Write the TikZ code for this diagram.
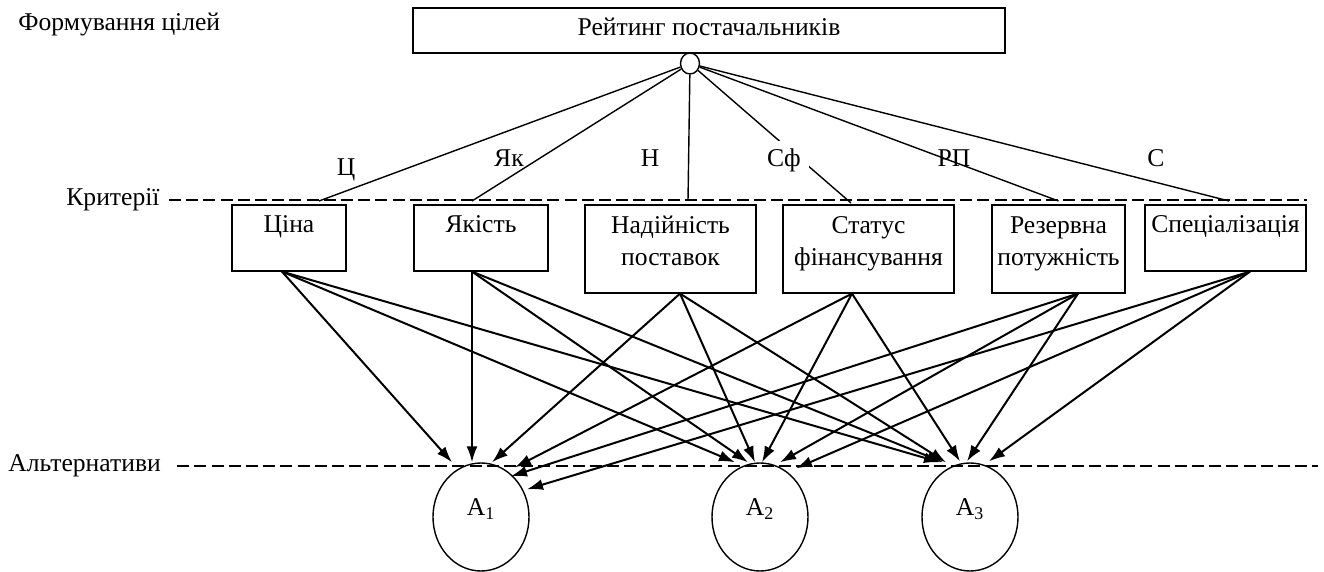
\documentclass[tikz,border=0pt]{standalone}
\usepackage{fontspec}
\setmainfont{Liberation Serif}
\usetikzlibrary{arrows.meta,shapes.geometric,calc}

\begin{document}
\begin{tikzpicture}[x=0.5pt, y=-0.5pt, >={Latex[length=8pt,width=5.5pt]},
    font=\fontsize{12.8}{16}\selectfont,
    goalbox/.style={rectangle, draw, line width=0.9pt, anchor=north, inner xsep=0pt, inner ysep=0pt, text height=14pt, text depth=8.5pt},
    crit/.style={rectangle, draw, line width=0.8pt, anchor=north, align=center, inner xsep=0pt, inner ysep=0pt, text height=14pt, text depth=19pt},
    crit2/.style={crit, text height=30.5pt, text depth=13.5pt},
    alt/.style={ellipse, draw, line width=0.7pt, inner sep=0pt, minimum width=48pt, minimum height=54pt, text depth=10pt},
    lbl/.style={anchor=base, inner sep=0pt},
    level/.style={draw, line width=1pt, dash pattern=on 6pt off 2.6pt},
    link/.style={draw, line width=0.7pt},
    line/.style={draw, ->, line width=1pt}]

    \useasboundingbox (0,0) rectangle (1324,572);

    \node [anchor=base west, inner sep=0pt] (goallbl) at (18,31) {Формування цілей};
    \node [anchor=base west, inner sep=0pt] (critlbl) at (66,206) {Критерії};
    \node [anchor=base west, inner sep=0pt] (altlbl) at (8,472) {Альтернативи};

    \node [goalbox, minimum width=296pt] (goal) at (709,7) {Рейтинг постачальників};
    \node [ellipse, link, fill=white, inner sep=0pt, minimum width=9.5pt, minimum height=10.5pt] (hub) at (690,63.5) {};

    \node [crit, minimum width=57pt] (cina) at (289,204) {Ціна};
    \node [crit, minimum width=67pt] (yakist) at (481,204) {Якість};
    \node [crit2, minimum width=85.5pt] (nadiin) at (670.5,204) {Надійність\\поставок};
    \node [crit2, minimum width=85.5pt] (status) at (868.5,204) {Статус\\фінансування};
    \node [crit2, minimum width=66.5pt] (rezerv) at (1058.5,204) {Резервна\\потужність};
    \node [crit, minimum width=80.5pt] (spec) at (1225.5,204) {Спеціалізація};

    \node [alt] (alt1) at (481,517) {A\textsubscript{1}};
    \node [alt] (alt2) at (760,517) {A\textsubscript{2}};
    \node [alt] (alt3) at (970,517) {A\textsubscript{3}};

    \coordinate (altend) at (1318,0);
    \draw [level] ([xshift=4.5pt]critlbl.east) -- (critlbl.east -| spec.east);
    \draw [level] ([xshift=8pt]altlbl.east) -- (altlbl.east -| altend);

    \draw [link] (hub) -- ([xshift=15pt,yshift=1.5pt]cina.north);
    \draw [link] (hub) -- ([xshift=-4.5pt,yshift=1.5pt]yakist.north);
    \draw [link] (hub) -- ([xshift=8.75pt,yshift=1.5pt]nadiin.north);
    \draw [link] (hub) -- ([xshift=-8.75pt,yshift=0.5pt]status.north);
    \draw [link] (hub) -- ([yshift=1.5pt]rezerv.north);
    \draw [link] (hub) -- ([xshift=1.75pt,yshift=1.5pt]spec.north);

    \node [lbl] (wc) at (346,176) {Ц};
    \node [lbl] (wy) at (509,167) {Як};
    \node [lbl] (wn) at (650,167) {Н};
    \node [lbl, fill=white, inner sep=4pt] (ws) at (784,167) {Сф};
    \node [lbl] (wr) at (954,167) {РП};
    \node [lbl] (wsp) at (1156,167) {С};

    \coordinate (cinaB) at ([xshift=-3.5pt]cina.south);
    \coordinate (yakistB) at ([xshift=-4.5pt]yakist.south);
    \coordinate (nadiinB) at ([xshift=4.75pt]nadiin.south);
    \coordinate (statusB) at ([xshift=-8.25pt]status.south);
    \coordinate (rezervB) at ([xshift=9.75pt]rezerv.south);
    \coordinate (specB) at ([xshift=12.25pt]spec.south);

    \draw [line] (cinaB) -- ($(alt1.north)+(-29,0)$);
    \draw [line] (cinaB) -- ($(alt2.north)+(-25,0)$);
    \draw [line] (cinaB) -- ($(alt3.north)+(-30,0)$);

    \draw [line] (yakistB) -- ($(alt1.north)+(-9,0)$);
    \draw [line] (yakistB) -- ($(alt2.north)+(-12,0)$);
    \draw [line] (yakistB) -- ($(alt3.north)+(-27,0)$);

    \draw [line] (nadiinB) -- ($(alt1.north)+(11,0)$);
    \draw [line] (nadiinB) -- ($(alt2.north)+(-5,0)$);
    \draw [line] (nadiinB) -- ($(alt3.north)+(-24,0)$);

    \draw [line] (statusB) -- ($(alt1.north)+(34,5)$);
    \draw [line] (statusB) -- ($(alt2.north)+(2,0)$);
    \draw [line] (statusB) -- ($(alt3.north)+(-10,-1)$);

    \draw [line] (rezervB) -- ($(alt1.north)+(30,14)$);
    \draw [line] (rezervB) -- ($(alt2.north)+(20,0)$);
    \draw [line] (rezervB) -- ($(alt3.north)+(-3,-1)$);

    \draw [line] (specB) -- ($(alt1.north)+(46,27)$);
    \draw [line] (specB) -- ($(alt2.north)+(36,6)$);
    \draw [line] (specB) -- ($(alt3.north)+(19,-1)$);

\end{tikzpicture}
\end{document}
